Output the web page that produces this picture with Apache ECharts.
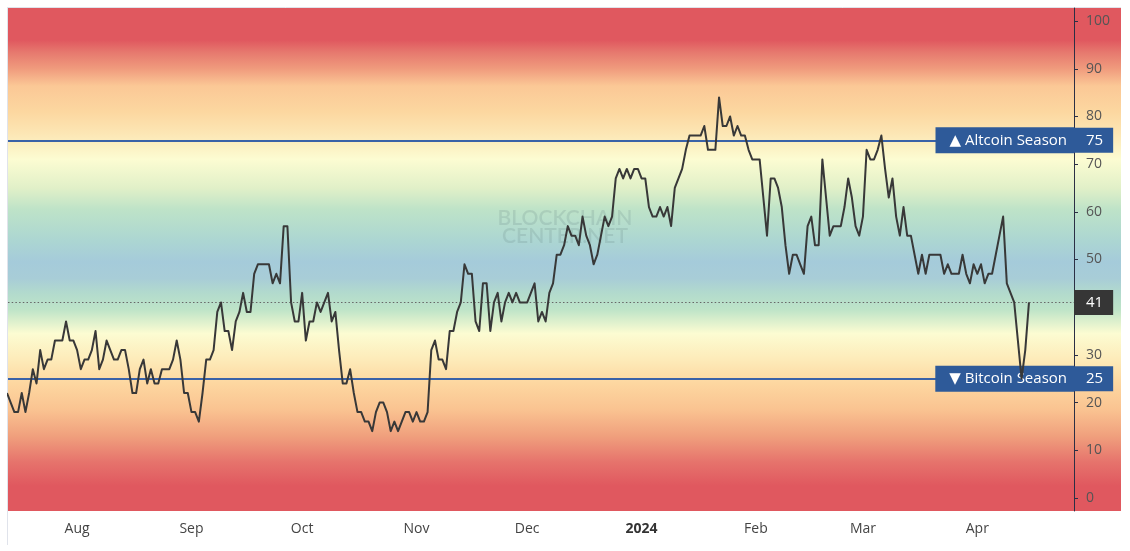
<!DOCTYPE html>
<html>
<head>
<meta charset="utf-8">
<title>Altcoin Season Index</title>
<script src="https://cdn.jsdelivr.net/npm/echarts@6/dist/echarts.min.js"></script>
<style>
  html, body { margin: 0; padding: 0; background: #fff; }
  #chart { width: 1130px; height: 551px; }
</style>
</head>
<body>
<div id="chart"></div>
<script>
// daily index values, one per day starting at startDate
var startDate = '2023-07-13';
var indexValues = [
  22, 20, 18, 18, 22, 18, 22, 27, 24, 31, 27,
  29, 29, 33, 33, 33, 37, 33, 33, 31, 27,
  29, 29, 31, 35, 27, 29, 33, 31, 29, 29,
  31, 31, 27, 22, 22, 27, 29, 24, 27, 24,
  24, 27, 27, 27, 29, 33, 29, 22, 22, 18,
  18, 16, 22, 29, 29, 31, 39, 41, 35, 35,
  31, 37, 39, 43, 39, 39, 47, 49, 49, 49,
  49, 45, 47, 45, 57, 57, 41, 37, 37, 43,
  33, 37, 37, 41, 39, 41, 43, 37, 39, 31,
  24, 24, 27, 22, 18, 18, 16, 16, 14, 18,
  20, 20, 18, 14, 16, 14, 16, 18, 18, 16,
  18, 16, 16, 18, 31, 33, 29, 29, 27, 35,
  35, 39, 41, 49, 47, 47, 37, 35, 45, 45,
  35, 41, 43, 37, 41, 43, 41, 43, 41, 41,
  41, 43, 45, 37, 39, 37, 43, 45, 51, 51,
  53, 57, 55, 55, 53, 59, 55, 53, 49, 51,
  55, 59, 57, 59, 67, 69, 67, 69, 67, 69,
  69, 67, 67, 61, 59, 59, 61, 59, 61, 57,
  65, 67, 69, 73, 76, 76, 76, 76, 78, 73,
  73, 73, 84, 78, 78, 80, 76, 78, 76, 76,
  73, 71, 71, 71, 63, 55, 67, 67, 65, 61,
  53, 47, 51, 51, 49, 47, 57, 59, 53, 53,
  71, 63, 55, 57, 57, 57, 61, 67, 63, 57,
  55, 59, 73, 71, 71, 73, 76, 69, 63, 67,
  59, 55, 61, 55, 55, 51, 47, 51, 47, 51,
  51, 51, 51, 47, 49, 47, 47, 47, 51, 47,
  45, 49, 47, 49, 45, 47, 47, 51, 55, 59,
  45, 43, 41, 33, 25, 31, 41
];
var monthTicks = ['2023-08-01', '2023-09-01', '2023-10-01', '2023-11-01', '2023-12-01',
                  '2024-01-01', '2024-02-01', '2024-03-01', '2024-04-01'];
var monthLabels = ['Aug', 'Sep', 'Oct', 'Nov', 'Dec', '2024', 'Feb', 'Mar', 'Apr'];
var yTicks = [0, 10, 20, 30, 40, 50, 60, 70, 80, 90, 100];
var altcoinLevel = 75;
var bitcoinLevel = 25;
var currentValue = indexValues[indexValues.length - 1];
// labels on the price scale: 40 sits under the current value tag
var yLabels = [0, 10, 20, 30, 50, 60, 70, 80, 90, 100, bitcoinLevel, currentValue, altcoinLevel];

var xRange = ['2023-07-13T06:30:00Z', '2024-04-27T05:00:00Z'];
var yRange = [-2.75, 102.75];

// x is measured in days since startDate
var DAY = 86400000;
var startMs = new Date(startDate + 'T00:00:00Z').getTime();
function toDay(s) { return (new Date(s).getTime() - startMs) / DAY; }
var seriesData = indexValues.map(function (v, i) { return [i, v]; });
var monthTickDays = monthTicks.map(function (d) { return toDay(d + 'T00:00:00Z'); });

var FONT = "'Open Sans', 'DejaVu Sans', sans-serif";
var BLUE_BOX = '#2e5a99';
var BLUE_LINE = '#3a62a7';

// background colour by index value (red - orange - yellow - green - blue - ... - red)
var bandStops = [
  [102.75, '#e0585f'], [96, '#e0585f'], [93.5, '#e6786e'], [90, '#f09b7d'],
  [86.4, '#fbc896'], [81, '#fcd7a0'], [76.5, '#fce6b4'], [71, '#fcfcd2'],
  [65, '#e1f0c8'], [60.5, '#bee3c8'], [54, '#acd6d2'], [49.5, '#a5cbda'],
  [46, '#a8cdd7'], [43, '#b2dacd'], [39.5, '#bee4c8'], [34.5, '#fcfcd2'],
  [29, '#fdebb9'], [24, '#fdd7a0'], [18.5, '#fac391'], [13, '#f0a07d'],
  [7.5, '#e6736c'], [2.5, '#e0585f'], [-2.75, '#e0585f']
];
var gradStops = bandStops.map(function (s) {
  return { offset: (yRange[1] - s[0]) / (yRange[1] - yRange[0]), color: s[1] };
});

var chart = echarts.init(document.getElementById('chart'));
chart.setOption({
  animation: false,
  backgroundColor: '#ffffff',
  grid: { left: 8, right: 56, top: 8, bottom: 40, containLabel: false, outerBoundsMode: 'none' },
  graphic: {
    elements: [
      {
        type: 'rect', z: -10, silent: true,
        shape: { x: 8, y: 8, width: 1113, height: 503 },
        style: { fill: new echarts.graphic.LinearGradient(0, 0, 0, 1, gradStops) }
      },
      {
        type: 'line', z: -10, silent: true,
        shape: { x1: 7.5, y1: 7, x2: 7.5, y2: 545 },
        style: { stroke: '#e0e3eb', lineWidth: 1 }
      },
      {
        type: 'line', z: -10, silent: true,
        shape: { x1: 7, y1: 7.5, x2: 1121, y2: 7.5 },
        style: { stroke: '#e0e3eb', lineWidth: 1 }
      },
      {
        type: 'text', z: -5, silent: true, x: 565, y: 218,
        style: { text: 'BLOCKCHAIN', font: "600 21px Lato, sans-serif", fill: 'rgba(100,130,130,0.2)',
                 align: 'center', verticalAlign: 'middle' }
      },
      {
        type: 'text', z: -5, silent: true, x: 565, y: 236,
        style: { text: 'CENTER.NET', font: "600 21px Lato, sans-serif", fill: 'rgba(100,130,130,0.2)',
                 align: 'center', verticalAlign: 'middle' }
      }
    ]
  },
  xAxis: {
    type: 'value',
    min: toDay(xRange[0]),
    max: toDay(xRange[1]),
    axisLine: { show: false },
    axisTick: { show: false },
    splitLine: { show: false },
    axisLabel: {
      customValues: monthTickDays,
      margin: 11,
      color: '#444',
      fontSize: 14,
      fontFamily: FONT,
      formatter: function (val) {
        var i = monthTickDays.indexOf(val);
        var txt = i >= 0 ? monthLabels[i] : '';
        return txt === '2024' ? '{b|' + txt + '}' : txt;
      },
      rich: {
        b: { fontWeight: 'bold', fontSize: 14, color: '#333', fontFamily: FONT }
      }
    }
  },
  yAxis: {
    type: 'value',
    position: 'right',
    min: yRange[0],
    max: yRange[1],
    axisLine: { show: true, lineStyle: { color: '#2b2f45', width: 1 } },
    axisTick: { show: true, length: 4, customValues: yTicks, lineStyle: { color: '#2b2f45' } },
    splitLine: { show: false },
    axisLabel: {
      customValues: yLabels,
      margin: 0,
      fontSize: 14,
      fontFamily: FONT,
      color: '#555',
      formatter: function (v) {
        if (v === altcoinLevel || v === bitcoinLevel) return '{tag|' + v + '}';
        if (v === currentValue) return '{cur|' + v + '}';
        return '{n|' + v + '}';
      },
      rich: {
        n: { color: '#555', fontSize: 14, fontFamily: FONT, padding: [0, 0, 0, 12] },
        tag: { color: '#fff', fontSize: 15, fontFamily: FONT, backgroundColor: BLUE_BOX,
               padding: [5, 10, 5, 12], lineHeight: 16 },
        cur: { color: '#fff', fontSize: 15, fontFamily: FONT, backgroundColor: '#363636',
               padding: [5, 10, 5, 12], lineHeight: 16 }
      }
    }
  },
  series: [{
    type: 'line',
    z: 3,
    data: seriesData,
    showSymbol: false,
    symbol: 'none',
    clip: true,
    lineStyle: { color: '#383838', width: 2, join: 'round' },
    markLine: {
      z: 1,
      silent: true,
      symbol: ['none', 'none'],
      animation: false,
      data: [
        {
          yAxis: altcoinLevel,
          lineStyle: { color: BLUE_LINE, width: 2, type: 'solid' },
          label: { show: true, position: 'insideEnd', distance: 0, formatter: '\u25B2 Altcoin Season',
                   color: '#fff', backgroundColor: BLUE_BOX, padding: [5, 7, 5, 14],
                   fontSize: 15, fontFamily: FONT, lineHeight: 16 }
        },
        {
          yAxis: bitcoinLevel,
          lineStyle: { color: BLUE_LINE, width: 2, type: 'solid' },
          label: { show: true, position: 'insideEnd', distance: 0, formatter: '\u25BC Bitcoin Season',
                   color: '#fff', backgroundColor: BLUE_BOX, padding: [5, 7, 5, 14],
                   fontSize: 15, fontFamily: FONT, lineHeight: 16 }
        },
        {
          yAxis: currentValue,
          lineStyle: { color: '#666666', width: 1, type: [1.5, 2.2] },
          label: { show: false }
        }
      ]
    }
  }]
});
window.addEventListener('resize', function () { chart.resize(); });
</script>
</body>
</html>
